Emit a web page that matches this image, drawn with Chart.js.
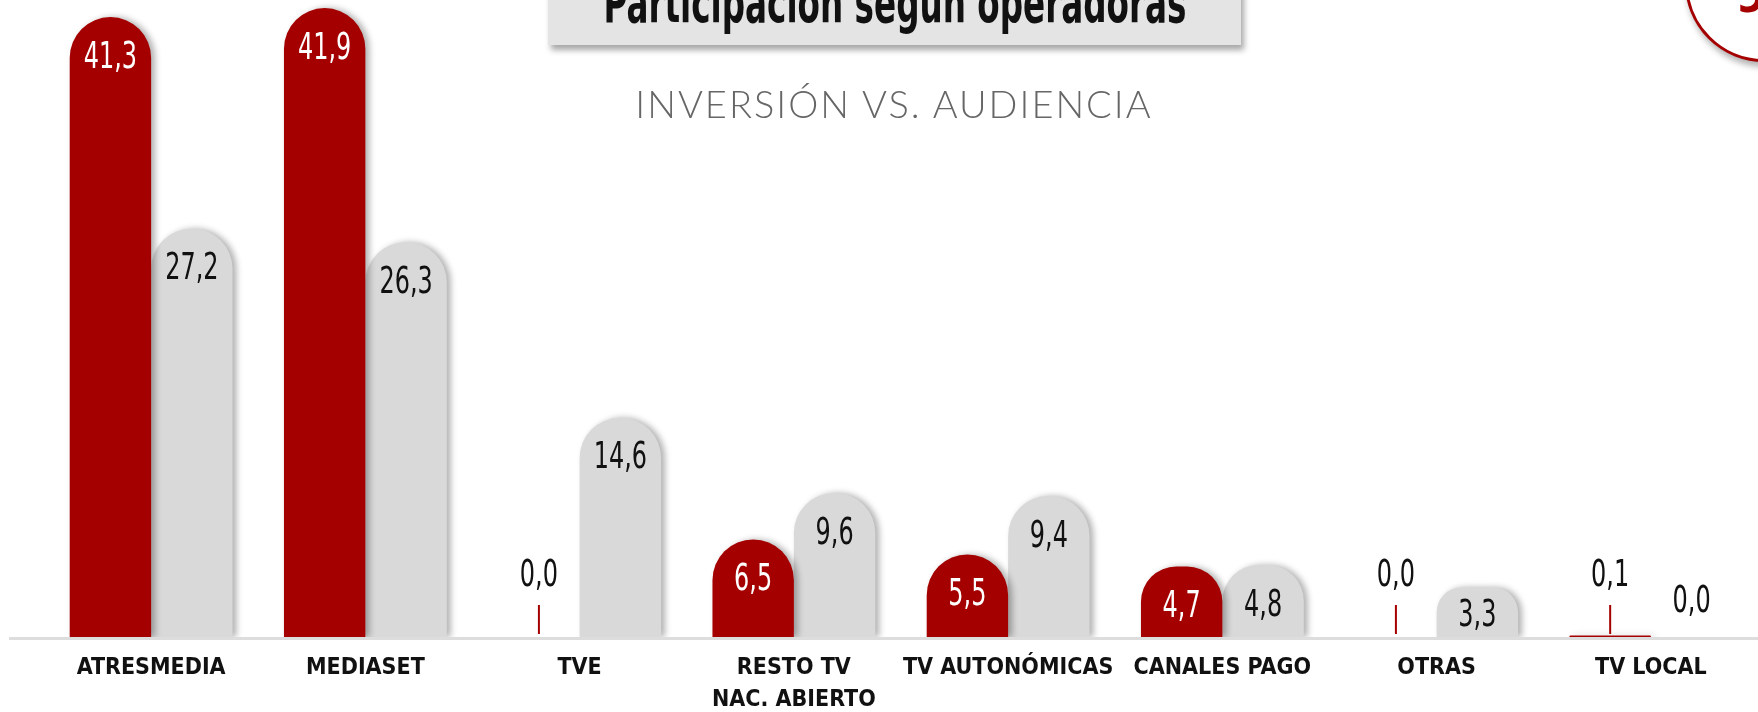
<!DOCTYPE html>
<html>
<head>
<meta charset="utf-8">
<script src="https://cdn.jsdelivr.net/npm/chart.js@4.4.1/dist/chart.umd.min.js"></script>
<style>
  html, body { margin: 0; padding: 0; background: #fff; overflow: hidden; }
  #wrap { position: relative; width: 1758px; height: 712px; }
  #chart { position: absolute; left: 0; top: 0; }
  .titlebox {
    position: absolute; left: 548px; top: -30px; width: 693px; height: 75px;
    background: #e4e4e4; box-shadow: 3px 5px 6px rgba(0,0,0,0.35);
  }
  .titlebox span {
    position: absolute; left: 50%; top: 6px; white-space: nowrap;
    font: bold 55px "DejaVu Sans Condensed", sans-serif;
    color: #111; line-height: 1; transform-origin: 50% 50%;
  }
  .subtitle {
    position: absolute; left: 0; width: 1788px; top: 84px; text-align: center;
    font: 300 38px Lato, "Open Sans", sans-serif; letter-spacing: 2px;
    color: #666; line-height: 1;
  }
  .badge {
    position: absolute; left: 1685px; top: -96px; width: 152px; height: 152px;
    border-radius: 50%; border: 3px solid #a50000; background: #fff;
    box-shadow: 2px 5px 6px rgba(0,0,0,0.3);
  }
  .badge span {
    position: absolute; left: 48px; bottom: 40px;
    font: bold 48px "DejaVu Sans Condensed", sans-serif; color: #a50000; line-height: 1;
  }
</style>
</head>
<body>
<div id="wrap">
  <canvas id="chart" width="1758" height="712"></canvas>
  <div class="titlebox"><span id="title">Participación según operadoras</span></div>
  <div class="subtitle">INVERSIÓN VS. AUDIENCIA</div>
  <div class="badge"><span>9</span></div>
</div>
<script>
// datos: inversión (rojo) vs audiencia (gris), en %
const categories = ['ATRESMEDIA', 'MEDIASET', 'TVE', ['RESTO TV', 'NAC. ABIERTO'], 'TV AUTONÓMICAS', 'CANALES PAGO', 'OTRAS', 'TV LOCAL'];
const inversion = [41.3, 41.9, 0.0, 6.5, 5.5, 4.7, 0.0, 0.1];
const audiencia = [27.2, 26.3, 14.6, 9.6, 9.4, 4.8, 3.3, 0.0];

const RED = '#a50000';
const GREY = '#d9d9d9';
const NARROW = '"DejaVu Sans Condensed", sans-serif';

const fmt = v => v.toFixed(1).replace('.', ',');

// título estrecho: comprimir hasta el ancho del original
const titleEl = document.getElementById('title');
const tw = titleEl.getBoundingClientRect().width;
titleEl.style.transform = 'translateX(-50%) scaleX(' + (583 / tw) + ')';

// sombras, línea base y etiquetas de valor
const barDecor = {
    id: 'barDecor',
    beforeDatasetsDraw(chart) {
        const ctx = chart.ctx;
        const y0 = chart.scales.y.getPixelForValue(0);
        ctx.save();
        ctx.strokeStyle = '#dddddd';
        ctx.lineWidth = 3;
        ctx.beginPath();
        ctx.moveTo(9, y0 + 1.5);
        ctx.lineTo(chart.width, y0 + 1.5);
        ctx.stroke();
        ctx.restore();
    },
    beforeDatasetDraw(chart) {
        const ctx = chart.ctx;
        ctx.save();
        ctx.shadowColor = 'rgba(0,0,0,0.3)';
        ctx.shadowBlur = 6;
        ctx.shadowOffsetX = 4;
    },
    afterDatasetDraw(chart) {
        chart.ctx.restore();
    },
    afterDatasetsDraw(chart) {
        const ctx = chart.ctx;
        const y0 = chart.scales.y.getPixelForValue(0);
        ctx.save();
        ctx.font = '37px ' + NARROW;
        ctx.textAlign = 'center';
        ctx.textBaseline = 'middle';
        chart.data.datasets.forEach((ds, i) => {
            const meta = chart.getDatasetMeta(i);
            meta.data.forEach((bar, j) => {
                const v = ds.data[j];
                let ty;
                ctx.fillStyle = '#111';
                if (v >= 1) {
                    ty = Math.min(bar.y + 41, y0 - 21);
                    if (i === 0) ctx.fillStyle = '#fff';
                } else if (i === 0) {
                    ctx.strokeStyle = RED;
                    ctx.lineWidth = 2;
                    ctx.beginPath();
                    ctx.moveTo(bar.x, y0 - 3);
                    ctx.lineTo(bar.x, y0 - 32);
                    ctx.stroke();
                    ty = y0 - 61;
                } else {
                    ty = y0 - 35;
                }
                ctx.save();
                ctx.translate(bar.x, ty);
                ctx.scale(0.72, 1);
                ctx.fillText(fmt(v), 0, 0);
                ctx.restore();
            });
        });
        ctx.restore();
    }
};

new Chart(document.getElementById('chart').getContext('2d'), {
    type: 'bar',
    data: {
        labels: categories,
        datasets: [
            {
                label: 'Inversión',
                data: inversion,
                backgroundColor: RED,
                borderRadius: { topLeft: 42, topRight: 42, bottomLeft: 0, bottomRight: 0 },
                borderSkipped: false
            },
            {
                label: 'Audiencia',
                data: audiencia,
                backgroundColor: GREY,
                borderRadius: { topLeft: 40, topRight: 40, bottomLeft: 0, bottomRight: 0 },
                borderSkipped: false
            }
        ]
    },
    options: {
        responsive: false,
        animation: false,
        categoryPercentage: 0.76,
        barPercentage: 1,
        layout: { padding: { left: 44, right: 0, top: 0, bottom: 0 } },
        plugins: { legend: { display: false }, tooltip: { enabled: false } },
        scales: {
            x: {
                afterFit: (scale) => { scale.height = 75; },
                grid: { display: false, drawTicks: false },
                border: { display: false },
                ticks: {
                    color: '#111',
                    font: { family: NARROW, weight: 'bold', size: 23, lineHeight: 1.4 },
                    padding: 15,
                    autoSkip: false,
                    maxRotation: 0
                }
            },
            y: { display: false, min: 0, max: 42.44 }
        }
    },
    plugins: [barDecor]
});
</script>
</body>
</html>
